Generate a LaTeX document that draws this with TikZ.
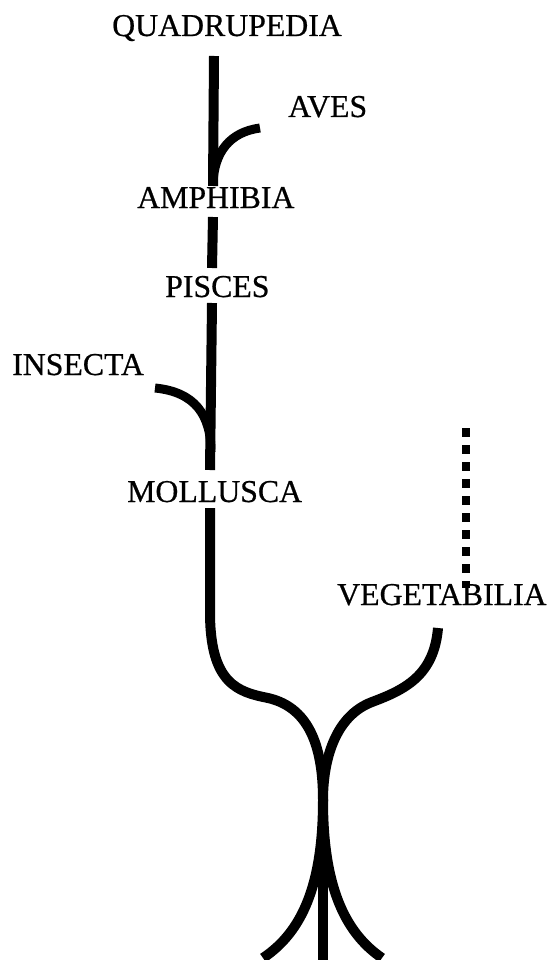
\documentclass[tikz,border=0pt]{standalone}
\usepackage{fontspec}
\setmainfont{Liberation Serif}
\newfontfamily\scanfont{Liberation Serif}[FakeBold=0.6]
\usepackage{tikz}
\tikzset{
  stem/.style={line width=10pt, line cap=butt},
  twig/.style={line width=9pt, line cap=butt},
  dotline/.style={line width=8pt, dash pattern=on 9pt off 8pt},
  taxon/.style={anchor=base west, inner sep=0, font=\scanfont\fontsize{31.8}{36}\selectfont}
}

\begin{document}
\begin{tikzpicture}[x=1pt, y=-1pt]
  \useasboundingbox (0,0) rectangle (550,960);

  % Labels
  \node[taxon] (quad) at (112,36) {QUADRUPEDIA};
  \node[taxon] (aves) at (288,117) {AVES};
  \node[taxon] (amph) at (137,208) {AMPHIBIA};
  \node[taxon] (pisc) at (165,297) {PISCES};
  \node[taxon] (inse) at (12,375) {INSECTA};
  \node[taxon] (moll) at (127,502) {MOLLUSCA};
  \node[taxon] (vege) at (337,605) {VEGETABILIA};

  % Stem points
  \coordinate (s0) at (214,56);
  \coordinate (s1) at (213,186);
  \coordinate (s2) at (213,217);
  \coordinate (s3) at (212,268);
  \coordinate (s4) at (212,303);
  \coordinate (s5) at (210,470);
  \coordinate (s6) at (210,508);
  \coordinate (join) at (323,800);
  \coordinate (foot) at (323,960);

  % Main stem
  \draw[stem] (s0) -- (s1);
  \draw[stem] (s2) -- (s3);
  \draw[stem] (s4) -- (s5);

  % Side branches
  \coordinate (avesend) at (260,128);
  \coordinate (insend) at (155,388);
  \draw[twig] (avesend) .. controls (230,132) and (214,152) .. (213,184);
  \draw[twig] (insend) .. controls (195,392) and (211,415) .. (211,452);

  % Plants
  \coordinate (vegetop) at (466,428);
  \coordinate (vegebot) at (466,588);
  \draw[dotline] (vegetop) -- (vegebot);

  % Lower junction
  \coordinate (vegeend) at (438,628);
  \draw[stem] (s6) -- (210,612) .. controls (210,684) and (238,692) .. (268,698)
    .. controls (312,708) and (323,752) .. (join);
  \draw[stem] (vegeend) .. controls (434,676) and (404,690) .. (372,702)
    .. controls (335,716) and (323,760) .. (join);
  \draw[stem] (323,785) -- (foot);

  % Roots
  \coordinate (rootl) at (263,958);
  \coordinate (rootr) at (382,958);
  \draw[stem] (join) .. controls (323,885) and (302,932) .. (rootl);
  \draw[stem] (join) .. controls (323,885) and (344,932) .. (rootr);
\end{tikzpicture}
\end{document}
